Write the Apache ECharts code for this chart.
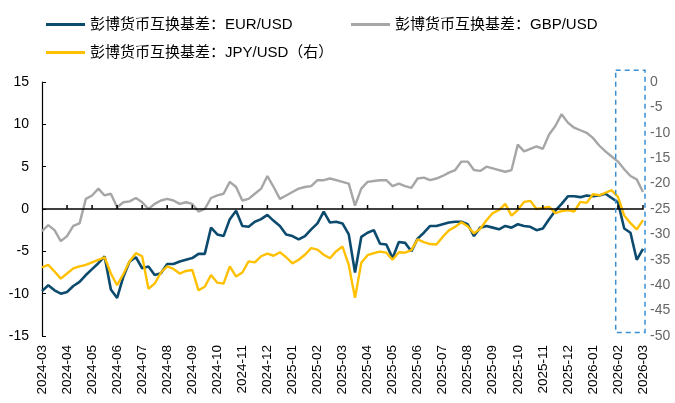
<!DOCTYPE html>
<html>
<head>
<meta charset="utf-8">
<script src="https://cdn.jsdelivr.net/npm/echarts@6/dist/echarts.min.js"></script>
<style>
  html, body { margin: 0; padding: 0; background: #fff; }
  #chart { width: 675px; height: 403px; }
</style>
</head>
<body>
<div id="chart"></div>
<script>
// 月份刻度（每月4个观测点，约按周）
const months = [
  '2024-03', '2024-04', '2024-05', '2024-06', '2024-07', '2024-08', '2024-09', '2024-10',
  '2024-11', '2024-12', '2025-01', '2025-02', '2025-03', '2025-04', '2025-05', '2025-06',
  '2025-07', '2025-08', '2025-09', '2025-10', '2025-11', '2025-12', '2026-01', '2026-02', '2026-03'
];
const perMonth = 4;

// 彭博货币互换基差：EUR/USD（左轴）
const eurUsd = [
  -9.7, -9.0, -9.6, -10.0, -9.8, -9.1, -8.6, -7.8,
  -7.1, -6.4, -5.6, -9.5, -10.5, -8.0, -6.2, -5.7,
  -7.0, -6.8, -7.8, -7.6, -6.5, -6.5, -6.2, -6.0,
  -5.8, -5.3, -5.3, -2.2, -3.0, -3.2, -1.2, -0.2,
  -2.0, -2.1, -1.5, -1.2, -0.7, -1.4, -2.0, -3.0,
  -3.2, -3.6, -3.2, -2.4, -1.7, -0.3, -1.6, -1.5,
  -1.7, -3.0, -7.5, -3.3, -2.8, -2.5, -4.1, -4.2,
  -5.8, -3.9, -4.0, -5.0, -3.5, -2.8, -2.0, -2.0,
  -1.8, -1.6, -1.5, -1.5, -1.8, -3.2, -2.2, -2.0,
  -2.2, -2.4, -2.0, -2.2, -1.8, -2.0, -2.1, -2.5,
  -2.3, -1.2, -0.2, 0.6, 1.5, 1.5, 1.4, 1.6,
  1.5, 1.6, 1.8, 1.3, 0.8, -2.3, -2.8, -6.0,
  -4.7
];

// 彭博货币互换基差：GBP/USD（左轴）
const gbpUsd = [
  -2.6, -1.9, -2.5, -3.8, -3.2, -2.0, -1.7, 1.2,
  1.6, 2.4, 1.6, 1.8, 0.2, 0.8, 0.9, 1.3,
  0.8, 0.0, 0.6, 1.0, 1.2, 1.0, 0.6, 0.8,
  0.6, -0.3, 0.0, 1.3, 1.6, 1.8, 3.2, 2.6,
  1.0, 1.2, 1.8, 2.4, 3.9, 2.6, 1.2, 1.6,
  2.0, 2.4, 2.6, 2.7, 3.4, 3.4, 3.6, 3.4,
  3.2, 3.0, 0.4, 2.4, 3.2, 3.3, 3.4, 3.4,
  2.7, 3.0, 2.7, 2.5, 3.6, 3.7, 3.4, 3.6,
  3.9, 4.3, 4.6, 5.6, 5.6, 4.6, 4.5, 5.0,
  4.8, 4.6, 4.4, 4.6, 7.6, 6.8, 7.1, 7.4,
  7.1, 8.8, 9.8, 11.2, 10.2, 9.6, 9.3, 9.0,
  8.4, 7.5, 6.8, 6.2, 5.6, 4.7, 3.9, 3.5,
  2.0
];

// 彭博货币互换基差：JPY/USD（右轴）
const jpyUsd = [
  -36.5, -36.0, -37.3, -38.7, -37.7, -36.7, -36.3, -36.0,
  -35.5, -35.0, -34.5, -37.7, -40.0, -37.8, -35.3, -33.7,
  -34.3, -40.7, -39.7, -37.5, -36.3, -36.8, -37.7, -37.2,
  -37.0, -41.0, -40.3, -38.0, -39.5, -39.7, -36.3, -38.3,
  -37.5, -35.3, -35.5, -34.3, -33.8, -34.2, -33.5, -34.5,
  -35.7, -35.0, -34.0, -32.7, -33.0, -34.0, -34.7, -33.3,
  -32.4, -36.0, -42.5, -35.6, -34.1, -33.7, -33.4, -33.6,
  -35.0, -33.5, -33.6, -33.1, -31.0, -31.5, -31.9, -32.0,
  -30.5, -29.2, -28.5, -27.6, -28.4, -29.8, -28.9, -27.2,
  -25.8, -25.2, -24.0, -26.3, -25.2, -23.6, -23.4, -25.0,
  -24.8, -24.6, -25.8, -25.4, -25.2, -25.5, -23.6, -23.8,
  -22.1, -22.3, -21.8, -21.3, -22.6, -26.3, -27.8, -29.0,
  -27.2
];

const names = ['彭博货币互换基差：EUR/USD', '彭博货币互换基差：GBP/USD', '彭博货币互换基差：JPY/USD（右）'];
const colors = ['#0c4a6e', '#a6a6a6', '#ffc000'];

// 类目：每月第一个点带月份标签
const categories = eurUsd.map((v, i) => months[Math.floor(i / perMonth)] + '|' + (i % perMonth));

const font = "'Liberation Sans', 'Noto Sans CJK SC', sans-serif";
const legendText = { fontSize: 15, color: '#000', fontFamily: font };
const chart = echarts.init(document.getElementById('chart'));

const option = {
  animation: false,
  backgroundColor: '#ffffff',
  textStyle: { fontFamily: font },
  legend: [
    { data: [names[0]], left: 41, top: 12, itemWidth: 39, itemHeight: 3, icon: 'rect', textStyle: legendText },
    { data: [names[1]], left: 346, top: 12, itemWidth: 39, itemHeight: 3, icon: 'rect', textStyle: legendText },
    { data: [names[2]], left: 41, top: 40, itemWidth: 39, itemHeight: 3, icon: 'rect', textStyle: legendText }
  ],
  grid: { left: 42, right: 32, top: 82, bottom: 67 },
  xAxis: {
    type: 'category',
    data: categories,
    boundaryGap: false,
    axisLine: { show: false, onZero: false },
    axisTick: { show: false },
    axisLabel: {
      interval: perMonth - 1,
      rotate: 90,
      fontSize: 13.5,
      color: '#000',
      margin: 9,
      formatter: v => v.split('|')[0]
    },
    splitLine: { show: false }
  },
  yAxis: [
    {
      type: 'value',
      min: -15,
      max: 15,
      interval: 5,
      axisLine: { show: true, onZero: false, lineStyle: { color: '#000', width: 1.2 } },
      axisTick: { show: true, inside: true, length: 4, lineStyle: { color: '#000' } },
      axisLabel: { fontSize: 14, color: '#000', margin: 13 },
      splitLine: { show: false }
    },
    {
      type: 'value',
      min: -50,
      max: 0,
      interval: 5,
      position: 'right',
      axisLine: { show: false },
      axisTick: { show: false },
      axisLabel: { fontSize: 14, color: '#666', margin: 7 },
      splitLine: { show: false }
    }
  ],
  series: [
    {
      name: names[0],
      type: 'line',
      data: eurUsd,
      yAxisIndex: 0,
      showSymbol: false,
      lineStyle: { color: colors[0], width: 2.6 },
      itemStyle: { color: colors[0] },
      z: 3
    },
    {
      name: names[1],
      type: 'line',
      data: gbpUsd,
      yAxisIndex: 0,
      showSymbol: false,
      lineStyle: { color: colors[1], width: 2.4 },
      itemStyle: { color: colors[1] },
      z: 2
    },
    {
      name: names[2],
      type: 'line',
      data: jpyUsd,
      yAxisIndex: 1,
      showSymbol: false,
      lineStyle: { color: colors[2], width: 2.4 },
      itemStyle: { color: colors[2] },
      z: 4
    }
  ]
};

chart.setOption(option);

// 0轴线（左轴0值处）和每月刻度，用一条折线路径画出
const px = i => chart.convertToPixel({ xAxisIndex: 0 }, i);
const py = v => chart.convertToPixel({ yAxisIndex: 0 }, v);
const yZero = py(0);
const last = eurUsd.length - 1;
const axisPts = [[px(0), yZero]];
for (let i = perMonth; i <= last; i += perMonth) {
  const x = px(i);
  axisPts.push([x, yZero], [x, yZero - 4], [x, yZero]);
}
const graphics = [{
  type: 'polyline',
  shape: { points: axisPts },
  style: { stroke: '#000', lineWidth: 1.5, fill: null },
  silent: true,
  z: 100
}];

// 右侧虚线框：标出最近一段
const x0 = px(91) + 4;
const x1 = px(last) + 2;
const y0 = py(16.4);
const y1 = py(-14.6);
graphics.push({
  type: 'rect',
  shape: { x: x0, y: y0, width: x1 - x0, height: y1 - y0 },
  style: { fill: 'none', stroke: '#3a8ed2', lineWidth: 1.5, lineDash: [5, 4] },
  silent: true,
  z: 100
});

chart.setOption({ graphic: graphics });
</script>
</body>
</html>
